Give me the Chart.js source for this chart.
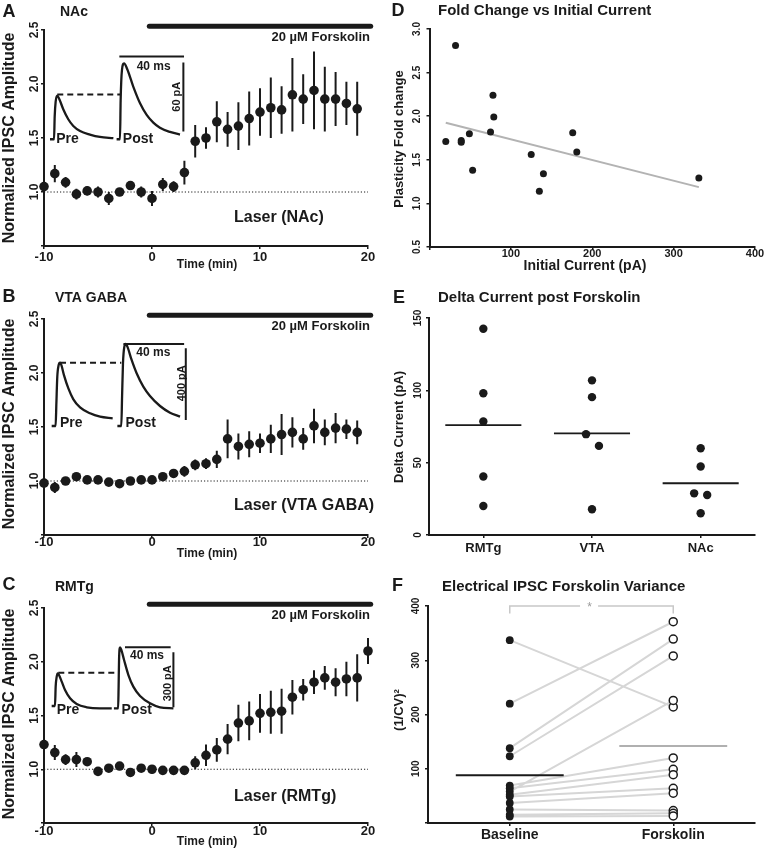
<!DOCTYPE html>
<html>
<head>
<meta charset="utf-8">
<script src="https://cdn.jsdelivr.net/npm/chart.js@4.4.1/dist/chart.umd.min.js"></script>
<style>
    html, body { margin: 0; padding: 0; background: #fff; }
    #wrap { position: relative; width: 765px; height: 851px; overflow: hidden; }
    #wrap canvas { position: absolute; left: 0; top: 0; }
</style>
</head>
<body>
<div id="wrap">
    <canvas id="cA" width="765" height="851"></canvas>
    <canvas id="cB" width="765" height="851"></canvas>
    <canvas id="cC" width="765" height="851"></canvas>
    <canvas id="cD" width="765" height="851"></canvas>
    <canvas id="cE" width="765" height="851"></canvas>
    <canvas id="cF" width="765" height="851"></canvas>
</div>
<script>
// ---- time courses (A, B, C) ----
const timeAB = [-10, -9, -8, -7, -6, -5, -4, -3, -2, -1, 0, 1, 2, 3, 4, 5, 6, 7, 8, 9, 10, 11, 12, 13, 14, 15, 16, 17, 18, 19];
const timeC = [-10, -9, -8, -7, -6, -5, -4, -3, -2, -1, 0, 1, 2, 3, 4, 5, 6, 7, 8, 9, 10, 11, 12, 13, 14, 15, 16, 17, 18, 19, 20];

const nacMean = [1.05, 1.17, 1.09, 0.98, 1.01, 1.00, 0.94, 1.00, 1.06, 1.00, 0.94, 1.07, 1.05, 1.18, 1.47, 1.50, 1.65, 1.58, 1.61, 1.68, 1.74, 1.78, 1.76, 1.90, 1.86, 1.94, 1.86, 1.86, 1.82, 1.77];
const nacSem = [0.02, 0.08, 0.05, 0.05, 0.04, 0.05, 0.06, 0.02, 0.03, 0.05, 0.07, 0.06, 0.05, 0.11, 0.15, 0.10, 0.19, 0.16, 0.22, 0.25, 0.22, 0.28, 0.22, 0.34, 0.23, 0.36, 0.30, 0.25, 0.20, 0.25];

const vtaMean = [0.98, 0.94, 1.00, 1.04, 1.01, 1.01, 0.99, 0.975, 1.00, 1.01, 1.01, 1.04, 1.07, 1.09, 1.15, 1.16, 1.20, 1.39, 1.32, 1.34, 1.35, 1.39, 1.43, 1.45, 1.39, 1.51, 1.45, 1.49, 1.48, 1.45];
const vtaSem = [0.02, 0.05, 0.02, 0.02, 0.02, 0.02, 0.02, 0.02, 0.02, 0.02, 0.02, 0.02, 0.04, 0.05, 0.05, 0.05, 0.08, 0.18, 0.12, 0.12, 0.09, 0.13, 0.19, 0.14, 0.10, 0.16, 0.12, 0.14, 0.09, 0.11];

const rmtgMean = [1.23, 1.155, 1.09, 1.09, 1.07, 0.98, 1.01, 1.03, 0.97, 1.01, 1.00, 0.99, 0.99, 0.99, 1.06, 1.13, 1.18, 1.28, 1.43, 1.45, 1.52, 1.53, 1.54, 1.67, 1.74, 1.81, 1.85, 1.81, 1.84, 1.85, 2.10];
const rmtgSem = [0.02, 0.07, 0.05, 0.07, 0.02, 0.02, 0.02, 0.02, 0.02, 0.02, 0.04, 0.02, 0.02, 0.02, 0.06, 0.10, 0.11, 0.14, 0.17, 0.18, 0.18, 0.20, 0.21, 0.16, 0.10, 0.11, 0.11, 0.13, 0.16, 0.22, 0.12];

const forskolinSpan = [-0.25, 20.25];

// example IPSC traces, [ms, pA]
const nacPre = [[0, 0], [2.5, 0], [2.9, 19.7], [3.5, 32.8], [4.5, 38], [5.8, 34.8], [8.2, 26.1], [11.3, 17.4], [14.4, 11.6], [18.6, 7.2], [24.7, 4.1], [30.9, 2], [39.2, 0.9]];
const nacPost = [[41.2, 0], [43.3, 0], [43.7, 34], [44.5, 60], [45.8, 66], [47.8, 60.9], [51.5, 45.8], [55.7, 31.3], [59.8, 21.2], [63.9, 14.5], [68, 10.1], [74.2, 6.4], [80.4, 4.1]];
const nacDash = [[4.5, 39], [43.7, 39]];
const nacBar = [[42.9, 71.9], [82.9, 71.9], null, [82.5, 66.7], [82.5, 6.7]];

const vtaPre = [[0, 0], [2.6, 0], [3.1, 126.5], [3.7, 275], [4.6, 340], [5.5, 353.5], [6.4, 340], [8.1, 284], [11, 210], [14.3, 149], [18.7, 104], [25.3, 70.7], [31.9, 52], [40.2, 42.8]];
const vtaPost = [[43.3, 0], [45.9, 0], [46.4, 163.7], [47, 349.8], [47.9, 442.8], [48.8, 457.7], [49.9, 442.8], [52.7, 368.4], [56, 294], [60.4, 219.5], [64.8, 167.4], [71.4, 111.6], [78, 74.4], [84.6, 52.1]];
const vtaDash = [[5.5, 353.5], [45.9, 353.5]];
const vtaBar = [[47.3, 457.7], [87.3, 457.7], null, [88.4, 433.5], [88.4, 33.5]];

const rmtgPre = [[0, 0], [2.9, 0], [3.5, 105.5], [4.4, 160], [5.3, 178], [6.4, 169], [8.8, 133], [11.7, 87], [16.1, 42], [21.9, 11], [30.7, -7], [42.3, -13], [52.6, -13]];
const rmtgPost = [[54.5, -13], [58.2, -13], [58.6, 100], [59, 250.9], [59.9, 320], [61, 305.5], [63.4, 250.9], [67.2, 169], [71.5, 105.5], [77.4, 54.5], [86.1, 14.5], [94.9, -7.3], [106.6, -12.7]];
const rmtgDash = [[5.8, 181.8], [58.4, 181.8]];
const rmtgBar = [[64.2, 320], [104.2, 320], null, [106.6, 292.7], [106.6, -7.3]];

// ---- D: fold change vs initial current ----
const initCurrent = [20, 32, 39, 39, 49, 53, 75, 78, 79, 125, 135, 140, 176, 181, 331];
const foldChange = [1.71, 2.81, 1.72, 1.70, 1.80, 1.38, 1.82, 2.24, 1.99, 1.56, 1.14, 1.34, 1.81, 1.59, 1.29];

// ---- E: delta current ----
const deltaGroups = ["RMTg", "VTA", "NAc"];
const deltaRMTg = [142.6, 98, 78.5, 40.4, 20];
const deltaVTA = [106.9, 95.3, 69.7, 61.6, 17.8];
const deltaNAc = [60, 47.3, 28.8, 27.7, 15];
const deltaJitter = [[0, 0, 0, 0, 0], [0, 0, -0.055, 0.064, 0], [0, 0, -0.06, 0.06, 0]];

// ---- F: (1/CV)^2 paired ----
const varGroups = ["Baseline", "Forskolin"];
const baselineVar = [337, 220, 138, 123, 58, 69, 64, 52, 49, 37, 25, 15, 12];
const forskolinVar = [214, 371, 339, 308, 226, 120, 99, 89, 64, 55, 23, 18, 13];
const varMeans = [88, 142];

const W = 765, H = 851;
const INK = "#1a1a1a";
const SANS = "'Liberation Sans', Arial, Helvetica, sans-serif";
const f = (size, weight) => (weight || "bold") + " " + size + "px " + SANS;

const notes = {
    id: "notes",
    afterDraw(chart, args, o) {
        const ctx = chart.ctx;
        const put = (text, x, y, font, align, rot, color) => {
            ctx.save();
            ctx.font = font;
            ctx.fillStyle = color || INK;
            ctx.textAlign = align || "center";
            ctx.textBaseline = "middle";
            ctx.translate(x, y);
            if (rot) ctx.rotate(rot * Math.PI / 180);
            ctx.fillText(text, 0, 0);
            ctx.restore();
        };
        const yt = o.yTicks;
        if (yt) {
            const s = chart.scales.y;
            s.ticks.forEach(t => {
                if ((yt.skip || []).includes(t.value)) return;
                put(t.value.toFixed(yt.dec), yt.x, s.getPixelForValue(t.value), yt.font, "center", -90);
            });
        }
        const xt = o.xTicks;
        if (xt) {
            const s = chart.scales.x;
            s.ticks.forEach(t => {
                if ((xt.skip || []).includes(t.value)) return;
                const label = xt.labels ? xt.labels[t.value] : String(t.value);
                put(label, s.getPixelForValue(t.value), xt.y, xt.font);
            });
        }
        (o.items || []).forEach(it => put(it.text, it.x, it.y, it.font, it.align, it.rot, it.color));
    }
};

const zeroFit = s => {
    if (s.isHorizontal()) s.height = 0;
    else s.width = 0;
};

const axis = (position, min, max, step, extra) => Object.assign({
    type: "linear", position, min, max,
    ticks: { display: false, stepSize: step },
    grid: { drawOnChartArea: false, tickLength: 3, color: INK, lineWidth: 1.5 },
    border: { color: INK, width: 2 },
    afterFit: zeroFit,
}, extra || {});

const hidden = (name, min, max) => ({
    type: "linear", axis: name, display: false, min, max,
    position: name === "x" ? "bottom" : "left",
});

const pts = arr => arr.map(p => (p ? { x: p[0], y: p[1] } : { x: 0, y: null }));

const line = (data, extra) => Object.assign({
    type: "line", data, borderColor: INK, borderWidth: 2, pointRadius: 0,
    clip: false, spanGaps: false, tension: 0,
}, extra || {});

const dots = (data, extra) => Object.assign({
    type: "scatter", data, pointRadius: 4, pointHoverRadius: 4,
    backgroundColor: INK, borderColor: INK, borderWidth: 0, clip: false,
}, extra || {});

const makeChart = (id, area, datasets, scales, noteCfg) => new Chart(document.getElementById(id), {
    type: "scatter",
    data: { datasets },
    options: {
        responsive: false,
        animation: false,
        events: [],
        layout: { padding: { left: area[0], top: area[1], right: W - area[2], bottom: H - area[3] } },
        plugins: { legend: { display: false }, tooltip: { enabled: false }, notes: noteCfg },
        scales,
    },
    plugins: [notes],
});

const timeCourse = (id, area, t, mean, sem, inset, items, tickY) => {
    const err = [];
    t.forEach((x, i) => err.push({ x, y: mean[i] - sem[i] }, { x, y: mean[i] + sem[i] }, { x, y: null }));
    const ins = { xAxisID: "tx", yAxisID: "ty" };
    const datasets = [
        dots(t.map((x, i) => ({ x, y: mean[i] })), { pointRadius: 4.8 }),
        line(err),
        line([{ x: -10, y: 1 }, { x: 20, y: 1 }], { borderWidth: 1, borderDash: [1.2, 2] }),
        line(forskolinSpan.map(x => ({ x, y: 2.535 })), { borderWidth: 5, borderCapStyle: "round" }),
        line(pts(inset.pre), Object.assign({ borderWidth: 2.3, cubicInterpolationMode: "monotone" }, ins)),
        line(pts(inset.post), Object.assign({ borderWidth: 2.3, cubicInterpolationMode: "monotone" }, ins)),
        line(pts(inset.dash), Object.assign({ borderWidth: 2, borderDash: [6, 4] }, ins)),
        line(pts(inset.bar), Object.assign({ borderWidth: 2 }, ins)),
    ];
    const scales = {
        x: axis("bottom", -10, 20, 10),
        y: axis("left", 0.5, 2.5, 0.5),
        tx: hidden("x", inset.tx[0], inset.tx[1]),
        ty: hidden("y", inset.ty[0], inset.ty[1]),
    };
    makeChart(id, area, datasets, scales, {
        items,
        yTicks: { x: 34.5, dec: 1, font: f(12) , skip: [0.5] },
        xTicks: { y: tickY, font: f(13) },
    });
};

// ---- A ----
timeCourse("cA", [44, 30, 368, 246], timeAB, nacMean, nacSem,
    { pre: nacPre, post: nacPost, dash: nacDash, bar: nacBar, tx: [-3.71, 196.7], ty: [-92.8, 95.0] },
    [
        { text: "A", x: 9, y: 12, font: f(18) },
        { text: "NAc", x: 60, y: 12, font: f(14), align: "left" },
        { text: "Normalized IPSC Amplitude", x: 10, y: 138, font: f(16), rot: -90 },
        { text: "Time (min)", x: 207, y: 265, font: f(12) },
        { text: "20 µM Forskolin", x: 370, y: 37, font: f(13), align: "right" },
        { text: "Laser (NAc)", x: 234, y: 218, font: f(16), align: "left" },
        { text: "Pre", x: 67.5, y: 139.3, font: f(14) },
        { text: "Post", x: 138, y: 139.3, font: f(14) },
        { text: "40 ms", x: 153.7, y: 66.7, font: f(12) },
        { text: "60 pA", x: 176.7, y: 96.7, font: f(11), rot: -90 },
    ], 257);

// ---- B ----
timeCourse("cB", [44, 319, 368, 535], timeAB, vtaMean, vtaSem,
    { pre: vtaPre, post: vtaPost, dash: vtaDash, bar: vtaBar, tx: [-5.06, 208.5], ty: [-608.3, 597.1] },
    [
        { text: "B", x: 9, y: 297.5, font: f(18) },
        { text: "VTA GABA", x: 55, y: 298, font: f(14), align: "left" },
        { text: "Normalized IPSC Amplitude", x: 10, y: 424, font: f(16), rot: -90 },
        { text: "Time (min)", x: 207, y: 554, font: f(12) },
        { text: "20 µM Forskolin", x: 370, y: 326, font: f(13), align: "right" },
        { text: "Laser (VTA GABA)", x: 234, y: 506, font: f(16), align: "left" },
        { text: "Pre", x: 71.3, y: 423.3, font: f(14) },
        { text: "Post", x: 140.7, y: 423.3, font: f(14) },
        { text: "40 ms", x: 153.3, y: 352.7, font: f(12) },
        { text: "400 pA", x: 181.7, y: 383.3, font: f(11), rot: -90 },
    ], 542);

// ---- C ----
timeCourse("cC", [44, 608, 368, 823], timeC, rmtgMean, rmtgSem,
    { pre: rmtgPre, post: rmtgPost, dash: rmtgDash, bar: rmtgBar, tx: [-6.72, 277], ty: [-638.3, 534.6] },
    [
        { text: "C", x: 9, y: 585, font: f(18) },
        { text: "RMTg", x: 55, y: 587.5, font: f(14), align: "left" },
        { text: "Normalized IPSC Amplitude", x: 10, y: 714, font: f(16), rot: -90 },
        { text: "Time (min)", x: 207, y: 842, font: f(12) },
        { text: "20 µM Forskolin", x: 370, y: 615, font: f(13), align: "right" },
        { text: "Laser (RMTg)", x: 234, y: 797, font: f(16), align: "left" },
        { text: "Pre", x: 68, y: 710, font: f(14) },
        { text: "Post", x: 136.7, y: 710, font: f(14) },
        { text: "40 ms", x: 147, y: 656, font: f(12) },
        { text: "300 pA", x: 168.3, y: 683.3, font: f(11), rot: -90 },
    ], 831);

// ---- D ----
(() => {
    const n = initCurrent.length;
    const mx = initCurrent.reduce((a, b) => a + b, 0) / n;
    const my = foldChange.reduce((a, b) => a + b, 0) / n;
    let sxy = 0, sxx = 0;
    initCurrent.forEach((x, i) => { sxy += (x - mx) * (foldChange[i] - my); sxx += (x - mx) * (x - mx); });
    const slope = sxy / sxx;
    const x0 = Math.min(...initCurrent), x1 = Math.max(...initCurrent);
    const fit = [x0, x1].map(x => ({ x, y: my + slope * (x - mx) }));
    makeChart("cD", [429.5, 29, 755, 247], [
        dots(initCurrent.map((x, i) => ({ x, y: foldChange[i] })), { pointRadius: 3.5 }),
        line(fit, { borderColor: "#b3b3b3", borderWidth: 2 }),
    ], {
        x: axis("bottom", 0, 400, 100),
        y: axis("left", 0.5, 3.0, 0.5),
    }, {
        items: [
            { text: "D", x: 398, y: 11, font: f(18) },
            { text: "Fold Change vs Initial Current", x: 438, y: 11, font: f(15), align: "left" },
            { text: "Plasticity Fold change", x: 399, y: 139, font: f(13), rot: -90 },
            { text: "Initial Current (pA)", x: 585, y: 266, font: f(14) },
        ],
        yTicks: { x: 417, dec: 1, font: f(10) },
        xTicks: { y: 254, font: f(11), skip: [0] },
    });
})();

// ---- E ----
(() => {
    const groups = [deltaRMTg, deltaVTA, deltaNAc];
    const points = [];
    const means = [];
    groups.forEach((vals, g) => {
        vals.forEach((v, i) => points.push({ x: g + deltaJitter[g][i], y: v }));
        const m = vals.reduce((a, b) => a + b, 0) / vals.length;
        means.push({ x: g - 0.35, y: m }, { x: g + 0.35, y: m }, { x: g, y: null });
    });
    const catTicks = s => { s.ticks = deltaGroups.map((_, i) => ({ value: i })); };
    makeChart("cE", [429, 318, 755, 535], [
        dots(points, { pointRadius: 4.2 }),
        line(means, { borderWidth: 1.8 }),
    ], {
        x: axis("bottom", -0.5, 2.5, 1, { afterBuildTicks: catTicks }),
        y: axis("left", 0, 150, 50),
    }, {
        items: [
            { text: "E", x: 399, y: 298, font: f(18) },
            { text: "Delta Current post Forskolin", x: 438, y: 298, font: f(15), align: "left" },
            { text: "Delta Current (pA)", x: 399, y: 427, font: f(13), rot: -90 },
        ],
        yTicks: { x: 418, dec: 0, font: f(10) },
        xTicks: { y: 548, font: f(13), labels: deltaGroups },
    });
})();

// ---- F ----
(() => {
    const pairs = [];
    baselineVar.forEach((b, i) => pairs.push({ x: 0, y: b }, { x: 1, y: forskolinVar[i] }, { x: 1, y: null }));
    const meanLine = g => [{ x: g - 0.33, y: varMeans[g] }, { x: g + 0.33, y: varMeans[g] }];
    const bracket = [{ x: 0, y: 386 }, { x: 0, y: 400 }, { x: 0.43, y: 400 }, { x: 0.5, y: null }, { x: 0.54, y: 400 }, { x: 1, y: 400 }, { x: 1, y: 386 }];
    const catTicks = s => { s.ticks = varGroups.map((_, i) => ({ value: i })); };
    makeChart("cF", [428, 606, 755, 823], [
        dots(baselineVar.map(y => ({ x: 0, y })), { pointRadius: 3.9 }),
        dots(forskolinVar.map(y => ({ x: 1, y })), { pointRadius: 4, backgroundColor: "#fff", borderWidth: 1.5 }),
        line(meanLine(0), { borderWidth: 2 }),
        line(meanLine(1), { borderColor: "#b0b0b0", borderWidth: 2 }),
        line(pairs, { borderColor: "#d6d6d6", borderWidth: 2 }),
        line(bracket, { borderColor: "#c8c8c8", borderWidth: 1.5 }),
    ], {
        x: axis("bottom", -0.5, 1.5, 1, { afterBuildTicks: catTicks }),
        y: axis("left", 0, 400, 100),
    }, {
        items: [
            { text: "F", x: 397.5, y: 586, font: f(18) },
            { text: "Electrical IPSC Forskolin Variance", x: 442, y: 587, font: f(15), align: "left" },
            { text: "(1/CV)²", x: 399, y: 710, font: f(13), rot: -90 },
            { text: "*", x: 589.5, y: 608, font: f(12, "normal"), color: "#9a9a9a" },
        ],
        yTicks: { x: 416.5, dec: 0, font: f(10), skip: [0] },
        xTicks: { y: 835, font: f(14), labels: varGroups },
    });
})();
</script>
</body>
</html>
